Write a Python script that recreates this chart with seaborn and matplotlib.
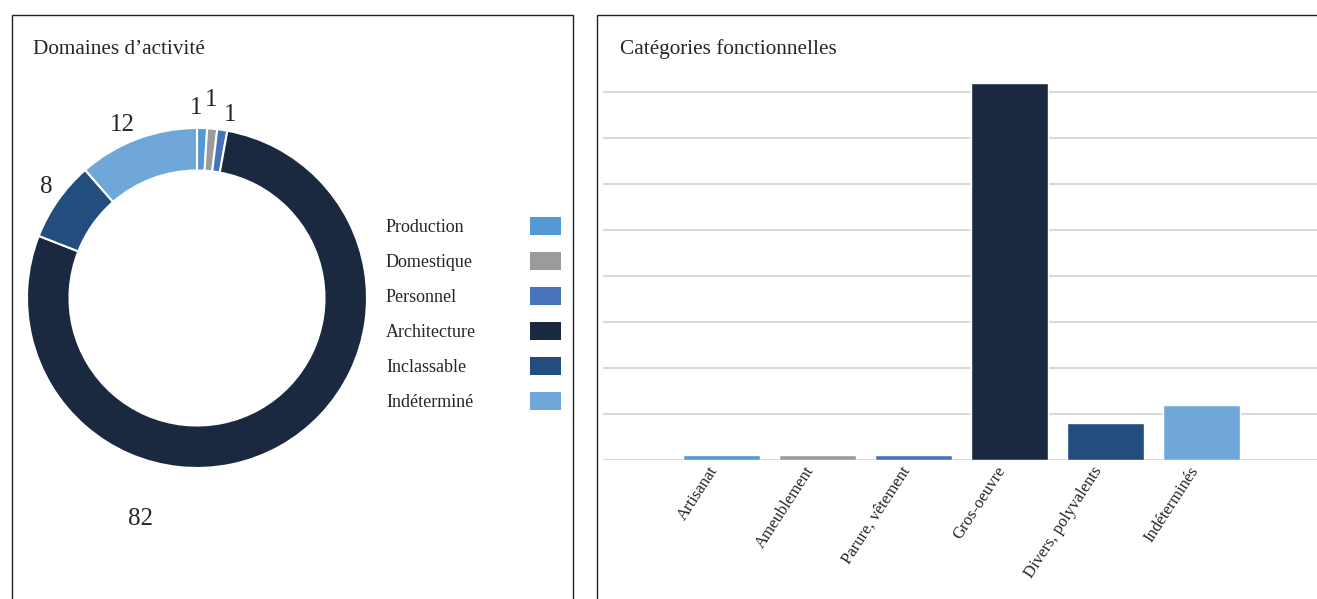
import numpy as np
import matplotlib
matplotlib.use("Agg")
import matplotlib.pyplot as plt
from matplotlib.patches import Rectangle
import seaborn as sns

# ---- data ----
domaines = ["Production", "Domestique", "Personnel", "Architecture", "Inclassable", "Indéterminé"]
domaines_n = [1, 1, 1, 82, 8, 12]

categories = ["Artisanat", "Ameublement", "Parure, vêtement", "Gros-oeuvre",
              "Divers, polyvalents", "Indéterminés"]
categories_n = [1, 1, 1, 82, 8, 12]

colors = ["#5499D3", "#999B9C", "#4673BA", "#1A2940", "#224D7E", "#6FA8D8"]

# label nudges (radius units) where the labels were moved by hand
label_nudge = {0: (-0.04, 0.0), 1: (-0.02, 0.05), 2: (0.03, -0.03), 3: None, 4: (0.03, 0.01), 5: (-0.045, -0.03)}
label_82 = (-0.335, -1.30)

W, H = 1317, 599
sns.set_theme(style="white")
plt.rcParams["font.family"] = ["Liberation Serif", "DejaVu Serif"]

fig = plt.figure(figsize=(W / 100, H / 100), dpi=100)


def fx(px):
    return px / W


def fy(py):
    return 1 - py / H


# panel frames
for x0, x1 in [(12, 573), (597, 1400)]:
    fig.add_artist(Rectangle((fx(x0), fy(700)), fx(x1) - fx(x0), fy(15) - fy(700),
                             transform=fig.transFigure, fill=False,
                             edgecolor="#222222", linewidth=1.0, clip_on=False))

fig.text(fx(33), fy(54), "Domaines d’activité", fontsize=15.3, va="baseline", ha="left")
fig.text(fx(620), fy(54), "Catégories fonctionnelles", fontsize=15.3, va="baseline", ha="left")

# ---- donut ----
R = 170
cx, cy = 197, 298
lim = 1.4
half = lim * R
ax1 = fig.add_axes([fx(cx - half), fy(cy + half), 2 * half / W, 2 * half / H])
wedges, _ = ax1.pie(domaines_n, colors=colors, startangle=90, counterclock=False, radius=1,
                    wedgeprops=dict(width=0.25, edgecolor="white", linewidth=1.5))
ax1.set_xlim(-lim, lim)
ax1.set_ylim(-lim, lim)
ax1.set_aspect("equal")
ax1.axis("off")

total = sum(domaines_n)
cum = np.cumsum([0] + domaines_n)
for i, n in enumerate(domaines_n):
    mid = (cum[i] + n / 2) / total * 2 * np.pi
    x, y = 1.12 * np.sin(mid), 1.12 * np.cos(mid)
    if label_nudge[i] is None:
        x, y = label_82
    else:
        x += label_nudge[i][0]
        y += label_nudge[i][1]
    ax1.text(x, y, str(n), fontsize=18, ha="center", va="center")

# legend drawn by hand: text left, swatch right
for i, name in enumerate(domaines):
    ypx = 226 + i * 35
    fig.text(fx(386), fy(ypx + 6), name, fontsize=13, ha="left", va="baseline")
    fig.add_artist(Rectangle((fx(530), fy(ypx + 9)), fx(561) - fx(530), fy(ypx - 9) - fy(ypx + 9),
                             transform=fig.transFigure, facecolor=colors[i], edgecolor="none"))

# ---- bar chart ----
ppu = 4.6  # pixels per unit
ytop = 85
x_left, x_right = 603, W
spacing = 96
c0 = 721.5
ax2 = fig.add_axes([fx(x_left), fy(460), (x_right - x_left) / W, ytop * ppu / H])
sns.barplot(x=categories, y=categories_n, hue=categories, palette=colors, width=0.8,
            legend=False, saturation=1, ax=ax2)
ax2.set_xlim((x_left - c0) / spacing, (x_right - c0) / spacing)
ax2.set_ylim(0, ytop)
ax2.set_yticks(range(0, 81, 10))
ax2.set_yticklabels([])
ax2.yaxis.grid(True, color="#D9D9D9", linewidth=1.5)
ax2.set_axisbelow(True)
for s in ax2.spines.values():
    s.set_visible(False)
ax2.tick_params(axis="both", length=0)
ax2.tick_params(axis="x", pad=9)
plt.setp(ax2.get_xticklabels(), rotation=57, ha="right", va="bottom",
         rotation_mode="anchor", fontsize=12)

fig.savefig("out.png", dpi=100)
